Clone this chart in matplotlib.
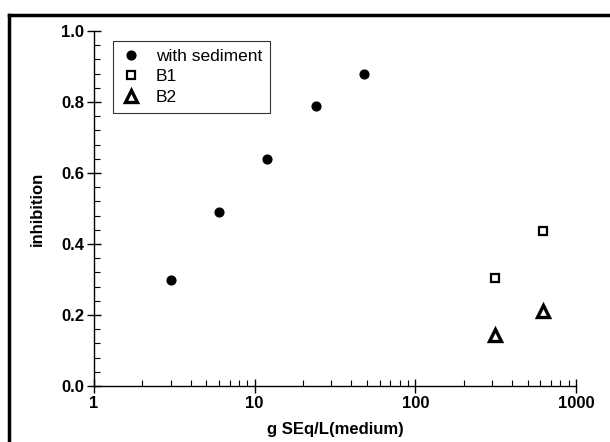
import numpy as np
import matplotlib
matplotlib.use('Agg')
import matplotlib.pyplot as plt
from matplotlib.ticker import MultipleLocator, LogLocator, FixedLocator
from matplotlib.lines import Line2D

plt.rcParams['font.family'] = ['Liberation Sans', 'DejaVu Sans']

## data
sed_x = [3, 6, 12, 24, 48]
sed_y = [0.30, 0.49, 0.64, 0.79, 0.88]
b1_x = [312, 625]
b1_y = [0.304, 0.437]
b2_x = [312, 625]
b2_y = [0.145, 0.212]

fig = plt.figure(figsize=(6.1, 4.42), dpi=100)
ax = fig.add_axes([94/610, 56/442, 482/610, 355/442])

ax.plot(sed_x, sed_y, 'o', color='black', markersize=6.3, label='with sediment')
ax.plot(b1_x, b1_y, 's', color='black', markerfacecolor='white', markeredgewidth=1.6,
        markersize=6.3, label='B1')
ax.plot(b2_x, b2_y, '^', color='black', markerfacecolor='white', markeredgewidth=2.4,
        markersize=9, label='B2')

ax.set_xscale('log')
ax.set_xlim(1, 1000)
ax.set_ylim(0, 1.0)
ax.xaxis.set_major_locator(FixedLocator([1, 10, 100, 1000]))
ax.xaxis.set_minor_locator(LogLocator(base=10, subs=np.arange(2, 10)))
ax.set_xticklabels(['1', '10', '100', '1000'])
ax.yaxis.set_major_locator(MultipleLocator(0.2))
ax.yaxis.set_minor_locator(MultipleLocator(0.04))
ax.yaxis.set_major_formatter(matplotlib.ticker.FormatStrFormatter('%.1f'))

for s in ['top', 'right']:
    ax.spines[s].set_visible(False)
for s in ['left', 'bottom']:
    ax.spines[s].set_linewidth(1.0)

ax.tick_params(which='major', direction='inout', length=10, width=1.0, labelsize=12, pad=2)
ax.tick_params(which='minor', direction='in', length=4.5, width=0.8)
for lab in ax.get_xticklabels() + ax.get_yticklabels():
    lab.set_fontweight('bold')

ax.set_xlabel('g SEq/L(medium)', fontsize=12, fontweight='bold', labelpad=8)
ax.set_ylabel('inhibition', fontsize=12, fontweight='bold', labelpad=12)

leg = ax.legend(loc='upper left', bbox_to_anchor=(113/610, 1 - 41/442), bbox_transform=fig.transFigure,
                fontsize=12.5, frameon=True, fancybox=False, handletextpad=0.8,
                labelspacing=0.3, borderpad=0.45, handlelength=1.2, borderaxespad=0)
leg.get_frame().set_edgecolor('black')
leg.get_frame().set_linewidth(0.8)

## outer frame (left and top edges only visible)
fig.add_artist(Line2D([9/610, 9/610], [0, 1 - 15/442], color='black', linewidth=2.5,
                      transform=fig.transFigure))
fig.add_artist(Line2D([9/610, 1], [1 - 15/442, 1 - 15/442], color='black', linewidth=2.5,
                      transform=fig.transFigure))

fig.savefig('out.png', dpi=100)
